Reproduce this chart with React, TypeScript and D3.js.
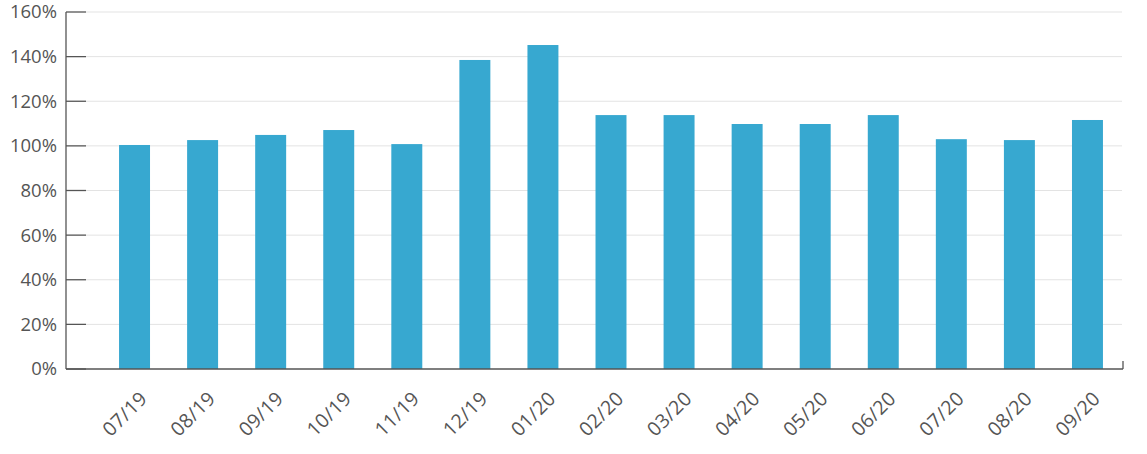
import React from "react";
import * as d3 from "d3";

const categories = ["07/19","08/19","09/19","10/19","11/19","12/19","01/20","02/20","03/20","04/20","05/20","06/20","07/20","08/20","09/20"];
const values = [100.4, 102.6, 104.9, 107.1, 100.8, 138.5, 145.2, 113.8, 113.8, 109.8, 109.8, 113.8, 103.0, 102.6, 111.6];
const yTicks = [0, 20, 40, 60, 80, 100, 120, 140, 160];

const W = 1147, H = 454;
const axisX = 66, axisRight = 1123;
const yTop = 12, yBottom = 369;

export default function App() {
  const x = d3.scaleBand<string>().domain(categories).range([100.5, 1121.5]).paddingInner(0.545).paddingOuter(0.2725);
  const y = d3.scaleLinear().domain([0, 160]).range([yBottom, yTop]);
  const font = "'Open Sans', 'Noto Sans', sans-serif";
  return (
    <svg width={W} height={H} style={{ position: "absolute", left: 0, top: 0, background: "#fff" }}>
      {yTicks.map(t => (
        <g key={t}>
          {t > 0 && <line x1={axisX + 20} x2={axisRight - 1} y1={y(t)} y2={y(t)} stroke="#e3e3e3" strokeWidth={1} />}
          <line x1={axisX} x2={axisX + 20} y1={y(t)} y2={y(t)} stroke="#555" strokeWidth={1.3} />
          <text x={57} y={y(t)} dy="0.35em" textAnchor="end" fontFamily={font} fontSize={18.5} fill="#555">{t}%</text>
        </g>
      ))}
      {categories.map((c, i) => (
        <rect key={c} x={x(c)} y={y(values[i])} width={x.bandwidth()} height={y(0) - y(values[i])} fill="#37a8d0" />
      ))}
      <line x1={axisX} x2={axisX} y1={yTop} y2={yBottom} stroke="#555" strokeWidth={1.3} />
      <line x1={axisX} x2={axisRight} y1={yBottom} y2={yBottom} stroke="#555" strokeWidth={1.3} />
      <line x1={axisRight} x2={axisRight} y1={yBottom} y2={yBottom - 8} stroke="#555" strokeWidth={1.3} />
      {categories.map(c => {
        const cx = (x(c) as number) + x.bandwidth() / 2 + 4;
        const cy = 390;
        return (
          <text key={c} x={cx} y={cy} textAnchor="end" dy="0.72em" transform={`rotate(-45 ${cx} ${cy})`} fontFamily={font} fontSize={19.5} letterSpacing={0.3} fill="#555">{c}</text>
        );
      })}
    </svg>
  );
}
